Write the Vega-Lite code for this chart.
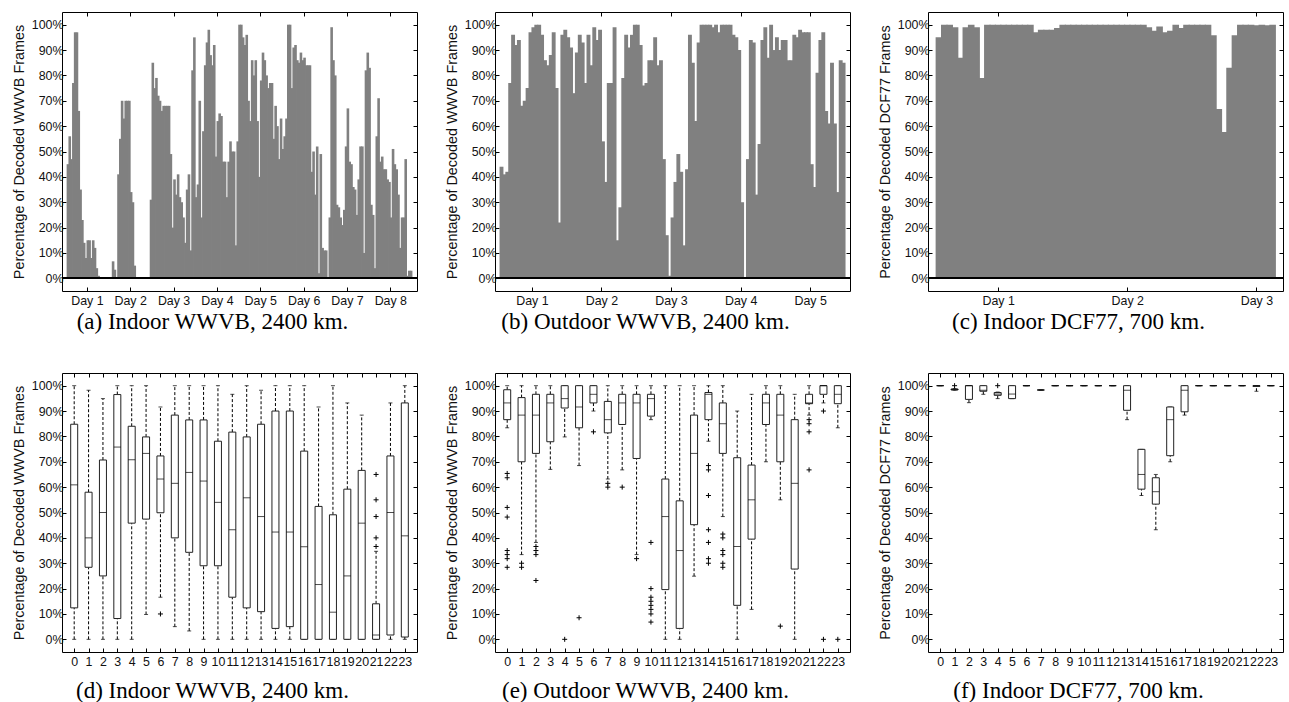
{
"$schema": "https://vega.github.io/schema/vega-lite/v6.json",
"padding": {"left": 10, "top": 11, "right": 4, "bottom": 4},
"background": "white",
"config": {
 "view": {"stroke": "black", "strokeWidth": 1},
 "axis": {"grid": false, "domain": false, "tickColor": "black", "tickSize": -4, "labelFont": "Liberation Sans", "labelFontSize": 12.4, "labelColor": "#111", "titleFont": "Liberation Sans", "titleFontWeight": "normal", "titleColor": "#111", "labelPadding": 3, "labelOverlap": false},
 "axisY": {"titleFontSize": 14.4, "titlePadding": 5, "tickCount": 11},
 "axisX": {"titleFont": "Liberation Serif", "titleFontSize": 23, "titleColor": "black", "titleX": 150, "labelPadding": 7}
},
"datasets": {
 "a": [{"h":13,"v":45},{"h":14,"v":56},{"h":15,"v":47},{"h":16,"v":77},{"h":17,"v":97},{"h":18,"v":97},{"h":19,"v":66},{"h":20,"v":35},{"h":21,"v":23},{"h":22,"v":14},{"h":23,"v":8},{"h":24,"v":15},{"h":25,"v":15},{"h":26,"v":8},{"h":27,"v":15},{"h":28,"v":12},{"h":29,"v":4},{"h":30,"v":1},{"h":31,"v":0.3},{"h":32,"v":0.3},{"h":33,"v":0.3},{"h":34,"v":0.3},{"h":35,"v":0.3},{"h":36,"v":0.3},{"h":37,"v":0.3},{"h":38,"v":6.7},{"h":39,"v":3.4},{"h":40,"v":0.3},{"h":41,"v":41},{"h":42,"v":55},{"h":43,"v":70},{"h":44,"v":63},{"h":45,"v":70},{"h":46,"v":70},{"h":47,"v":70},{"h":48,"v":34},{"h":49,"v":30},{"h":50,"v":5},{"h":51,"v":0.5},{"h":52,"v":0.3},{"h":53,"v":0.3},{"h":54,"v":0.3},{"h":55,"v":0.5},{"h":56,"v":0.3},{"h":57,"v":0.3},{"h":58,"v":0.5},{"h":59,"v":31},{"h":60,"v":85},{"h":61,"v":75},{"h":62,"v":79},{"h":63,"v":72},{"h":64,"v":70},{"h":65,"v":66},{"h":66,"v":68},{"h":67,"v":68},{"h":68,"v":68},{"h":69,"v":68},{"h":70,"v":49},{"h":71,"v":20},{"h":72,"v":39},{"h":73,"v":33},{"h":74,"v":41},{"h":75,"v":32},{"h":76,"v":30},{"h":77,"v":24},{"h":78,"v":14},{"h":79,"v":35},{"h":80,"v":41},{"h":81,"v":11},{"h":82,"v":82},{"h":83,"v":95},{"h":84,"v":32},{"h":85,"v":37},{"h":86,"v":70},{"h":87,"v":24},{"h":88,"v":58},{"h":89,"v":84},{"h":90,"v":93},{"h":91,"v":98},{"h":92,"v":88},{"h":93,"v":84},{"h":94,"v":92},{"h":95,"v":48},{"h":96,"v":62},{"h":97,"v":65},{"h":98,"v":64},{"h":99,"v":46},{"h":100,"v":46},{"h":101,"v":32},{"h":102,"v":46},{"h":103,"v":54},{"h":104,"v":50},{"h":105,"v":50},{"h":106,"v":13},{"h":107,"v":54},{"h":108,"v":100},{"h":109,"v":100},{"h":110,"v":95},{"h":111,"v":92},{"h":112,"v":96},{"h":113,"v":70},{"h":114,"v":62},{"h":115,"v":86},{"h":116,"v":80},{"h":117,"v":86},{"h":118,"v":62},{"h":119,"v":40},{"h":120,"v":78},{"h":121,"v":89},{"h":122,"v":86},{"h":123,"v":80},{"h":124,"v":75},{"h":125,"v":77},{"h":126,"v":77},{"h":127,"v":55},{"h":128,"v":68},{"h":129,"v":60},{"h":130,"v":47},{"h":131,"v":63},{"h":132,"v":51},{"h":133,"v":56},{"h":134,"v":63},{"h":135,"v":100},{"h":136,"v":100},{"h":137,"v":75},{"h":138,"v":91},{"h":139,"v":92},{"h":140,"v":86},{"h":141,"v":85},{"h":142,"v":89},{"h":143,"v":86},{"h":144,"v":87},{"h":145,"v":84},{"h":146,"v":84},{"h":147,"v":84},{"h":148,"v":42},{"h":149,"v":50},{"h":150,"v":33},{"h":151,"v":52},{"h":152,"v":2},{"h":153,"v":49},{"h":154,"v":12},{"h":155,"v":11},{"h":156,"v":11},{"h":157,"v":0},{"h":158,"v":24},{"h":159,"v":99},{"h":160,"v":86},{"h":161,"v":80},{"h":162,"v":29},{"h":163,"v":28},{"h":164,"v":24},{"h":165,"v":21},{"h":166,"v":27},{"h":167,"v":52},{"h":168,"v":67},{"h":169,"v":46},{"h":170,"v":45},{"h":171,"v":36},{"h":172,"v":35},{"h":173,"v":25},{"h":174,"v":39},{"h":175,"v":52},{"h":176,"v":52},{"h":177,"v":10},{"h":178,"v":82},{"h":179,"v":89},{"h":180,"v":83},{"h":181,"v":29},{"h":182,"v":25},{"h":183,"v":4},{"h":184,"v":56},{"h":185,"v":71},{"h":186,"v":46},{"h":187,"v":48},{"h":188,"v":43},{"h":189,"v":43},{"h":190,"v":39},{"h":191,"v":38},{"h":192,"v":24},{"h":193,"v":51},{"h":194,"v":45},{"h":195,"v":43},{"h":196,"v":33},{"h":197,"v":12},{"h":198,"v":24},{"h":199,"v":24},{"h":200,"v":47},{"h":201,"v":1},{"h":202,"v":3},{"h":203,"v":3}],
 "b": [{"h":13,"v":44},{"h":14,"v":41},{"h":15,"v":42},{"h":16,"v":77},{"h":17,"v":96},{"h":18,"v":92},{"h":19,"v":94},{"h":20,"v":68},{"h":21,"v":70},{"h":22,"v":75},{"h":23,"v":97},{"h":24,"v":99},{"h":25,"v":100},{"h":26,"v":100},{"h":27,"v":96},{"h":28,"v":86},{"h":29,"v":84},{"h":30,"v":88},{"h":31,"v":97},{"h":32,"v":75},{"h":33,"v":22},{"h":34,"v":96},{"h":35,"v":98},{"h":36,"v":95},{"h":37,"v":91},{"h":38,"v":73},{"h":39,"v":89},{"h":40,"v":96},{"h":41,"v":93},{"h":42,"v":77},{"h":43,"v":96},{"h":44,"v":84},{"h":45,"v":99},{"h":46,"v":94},{"h":47,"v":98},{"h":48,"v":54},{"h":49,"v":38},{"h":50,"v":77},{"h":51,"v":77},{"h":52,"v":99},{"h":53,"v":15},{"h":54,"v":28},{"h":55,"v":79},{"h":56,"v":96},{"h":57,"v":91},{"h":58,"v":96},{"h":59,"v":100},{"h":60,"v":100},{"h":61,"v":92},{"h":62,"v":76},{"h":63,"v":77},{"h":64,"v":86},{"h":65,"v":86},{"h":66,"v":95},{"h":67,"v":84},{"h":68,"v":86},{"h":69,"v":47},{"h":70,"v":17},{"h":71,"v":1},{"h":72,"v":24},{"h":73,"v":38},{"h":74,"v":49},{"h":75,"v":42},{"h":76,"v":13},{"h":77,"v":43},{"h":78,"v":96},{"h":79,"v":85},{"h":80,"v":62},{"h":81,"v":93},{"h":82,"v":100},{"h":83,"v":100},{"h":84,"v":100},{"h":85,"v":100},{"h":86,"v":99},{"h":87,"v":100},{"h":88,"v":97},{"h":89,"v":100},{"h":90,"v":100},{"h":91,"v":100},{"h":92,"v":100},{"h":93,"v":96},{"h":94,"v":95},{"h":95,"v":90},{"h":96,"v":30},{"h":97,"v":0.5},{"h":98,"v":47},{"h":99,"v":94},{"h":100,"v":93},{"h":101,"v":33},{"h":102,"v":53},{"h":103,"v":94},{"h":104,"v":99},{"h":105,"v":87},{"h":106,"v":100},{"h":107,"v":90},{"h":108,"v":95},{"h":109,"v":90},{"h":110,"v":94},{"h":111,"v":94},{"h":112,"v":86},{"h":113,"v":86},{"h":114,"v":96},{"h":115,"v":95},{"h":116,"v":98},{"h":117,"v":97},{"h":118,"v":97},{"h":119,"v":97},{"h":120,"v":45},{"h":121,"v":36},{"h":122,"v":81},{"h":123,"v":94},{"h":124,"v":97},{"h":125,"v":66},{"h":126,"v":61},{"h":127,"v":85},{"h":128,"v":61},{"h":129,"v":34},{"h":130,"v":86},{"h":131,"v":85}],
 "c": [{"h":13,"v":95},{"h":14,"v":100},{"h":15,"v":100},{"h":16,"v":99},{"h":17,"v":87},{"h":18,"v":99},{"h":19,"v":100},{"h":20,"v":99},{"h":21,"v":79},{"h":22,"v":100},{"h":23,"v":100},{"h":24,"v":100},{"h":25,"v":100},{"h":26,"v":100},{"h":27,"v":100},{"h":28,"v":100},{"h":29,"v":100},{"h":30,"v":100},{"h":31,"v":97},{"h":32,"v":98},{"h":33,"v":98},{"h":34,"v":98},{"h":35,"v":98.7},{"h":36,"v":100},{"h":37,"v":100},{"h":38,"v":100},{"h":39,"v":100},{"h":40,"v":100},{"h":41,"v":100},{"h":42,"v":100},{"h":43,"v":100},{"h":44,"v":100},{"h":45,"v":100},{"h":46,"v":100},{"h":47,"v":100},{"h":48,"v":100},{"h":49,"v":100},{"h":50,"v":100},{"h":51,"v":100},{"h":52,"v":99},{"h":53,"v":97.6},{"h":54,"v":99.3},{"h":55,"v":97},{"h":56,"v":97.6},{"h":57,"v":100},{"h":58,"v":98.7},{"h":59,"v":100},{"h":60,"v":100},{"h":61,"v":100},{"h":62,"v":100},{"h":63,"v":100},{"h":64,"v":95.8},{"h":65,"v":66.8},{"h":66,"v":57.7},{"h":67,"v":83},{"h":68,"v":95.8},{"h":69,"v":100},{"h":70,"v":100},{"h":71,"v":100},{"h":72,"v":99.8},{"h":73,"v":100},{"h":74,"v":99.8},{"h":75,"v":100}],
 "d": [{"h":0,"lo":0,"q1":12.4,"med":60.9,"q3":84.8,"hi":100},{"h":1,"lo":0,"q1":28.4,"med":40,"q3":58,"hi":98.2},{"h":2,"lo":0,"q1":25,"med":50,"q3":70.7,"hi":94.9},{"h":3,"lo":0,"q1":8.2,"med":75.8,"q3":96.5,"hi":100},{"h":4,"lo":0,"q1":45.8,"med":70.8,"q3":84,"hi":100},{"h":5,"lo":9.8,"q1":47.4,"med":73.3,"q3":79.8,"hi":100},{"h":6,"lo":16.6,"q1":49.9,"med":63.2,"q3":72.3,"hi":91.6},{"h":7,"lo":5,"q1":40,"med":61.5,"q3":88.4,"hi":100},{"h":8,"lo":3.3,"q1":34.3,"med":65.8,"q3":86.5,"hi":100},{"h":9,"lo":0,"q1":29,"med":62.4,"q3":86.5,"hi":100},{"h":10,"lo":0,"q1":29,"med":54,"q3":78.1,"hi":100},{"h":11,"lo":0,"q1":16.6,"med":43.2,"q3":81.7,"hi":96.6},{"h":12,"lo":0,"q1":12.4,"med":55.8,"q3":79.8,"hi":100},{"h":13,"lo":0,"q1":10.9,"med":48.4,"q3":84.8,"hi":98.2},{"h":14,"lo":0,"q1":4.3,"med":42.3,"q3":90,"hi":100},{"h":15,"lo":0,"q1":5,"med":42.3,"q3":90,"hi":100},{"h":16,"lo":0,"q1":0,"med":36.5,"q3":74.2,"hi":100},{"h":17,"lo":0,"q1":0,"med":21.6,"q3":52.4,"hi":91.6},{"h":18,"lo":0,"q1":0,"med":10.7,"q3":49.1,"hi":100},{"h":19,"lo":0,"q1":0,"med":25,"q3":59.2,"hi":93.2},{"h":20,"lo":0,"q1":0,"med":45.8,"q3":66.6,"hi":88.4},{"h":21,"lo":0,"q1":0,"med":1.7,"q3":14,"hi":34.7},{"h":22,"lo":0,"q1":1.7,"med":50,"q3":72.3,"hi":93.2},{"h":23,"lo":0,"q1":0.9,"med":40.8,"q3":93.2,"hi":100}],
 "do": [{"h":6,"v":10},{"h":21,"v":65},{"h":21,"v":55},{"h":21,"v":48.4},{"h":21,"v":40},{"h":21,"v":36.6}],
 "e": [{"h":0,"lo":83.4,"q1":86.6,"med":93.2,"q3":98.4,"hi":100},{"h":1,"lo":33.4,"q1":70,"med":88.4,"q3":95.3,"hi":100},{"h":2,"lo":38.2,"q1":73.3,"med":88.4,"q3":96.6,"hi":100},{"h":3,"lo":67,"q1":77.9,"med":93.2,"q3":96.6,"hi":100},{"h":4,"lo":79.8,"q1":91.2,"med":94.9,"q3":100,"hi":100},{"h":5,"lo":68.5,"q1":83.4,"med":91.6,"q3":100,"hi":100},{"h":6,"lo":90,"q1":93.2,"med":96.6,"q3":100,"hi":100},{"h":7,"lo":63.2,"q1":81.4,"med":86.6,"q3":93.8,"hi":100},{"h":8,"lo":66.8,"q1":84.7,"med":93.2,"q3":96.6,"hi":100},{"h":9,"lo":33.4,"q1":71.3,"med":93.2,"q3":96.6,"hi":100},{"h":10,"lo":86.6,"q1":88,"med":94.9,"q3":96.6,"hi":100},{"h":11,"lo":0,"q1":19.6,"med":48.4,"q3":63.2,"hi":100},{"h":12,"lo":0,"q1":4.3,"med":35,"q3":54.6,"hi":100},{"h":13,"lo":24.9,"q1":45.2,"med":73.3,"q3":88.4,"hi":100},{"h":14,"lo":78.1,"q1":86.6,"med":96.6,"q3":97.3,"hi":100},{"h":15,"lo":48.4,"q1":73.3,"med":85,"q3":93.2,"hi":100},{"h":16,"lo":0,"q1":13.4,"med":36.6,"q3":71.6,"hi":90},{"h":17,"lo":11.8,"q1":39.5,"med":55,"q3":68.7,"hi":96.6},{"h":18,"lo":70,"q1":84.7,"med":93.2,"q3":96.6,"hi":100},{"h":19,"lo":55,"q1":70,"med":88.4,"q3":96.6,"hi":100},{"h":20,"lo":0,"q1":27.7,"med":61.5,"q3":86.6,"hi":96.6},{"h":21,"lo":88.4,"q1":92.9,"med":93.2,"q3":96.6,"hi":100},{"h":22,"lo":93.2,"q1":96.6,"med":100,"q3":100,"hi":100},{"h":23,"lo":83.4,"q1":92.9,"med":96.6,"q3":100,"hi":100}],
 "eo": [{"h":0,"v":65.4},{"h":0,"v":63.7},{"h":0,"v":52},{"h":0,"v":48.2},{"h":0,"v":35},{"h":0,"v":33.4},{"h":0,"v":31.8},{"h":0,"v":28.4},{"h":1,"v":30},{"h":1,"v":28.4},{"h":2,"v":36.6},{"h":2,"v":35},{"h":2,"v":33.4},{"h":2,"v":23.2},{"h":4,"v":0},{"h":5,"v":8.5},{"h":6,"v":81.8},{"h":7,"v":61.5},{"h":7,"v":60},{"h":8,"v":60},{"h":9,"v":31.8},{"h":10,"v":38.2},{"h":10,"v":20},{"h":10,"v":16.6},{"h":10,"v":15},{"h":10,"v":13.4},{"h":10,"v":11.8},{"h":10,"v":10},{"h":10,"v":6.8},{"h":14,"v":68.5},{"h":14,"v":66.8},{"h":14,"v":56.7},{"h":14,"v":43.2},{"h":14,"v":38.2},{"h":14,"v":31.8},{"h":14,"v":30},{"h":15,"v":41.5},{"h":15,"v":40},{"h":15,"v":35},{"h":15,"v":33.4},{"h":15,"v":30},{"h":15,"v":28.4},{"h":19,"v":5.2},{"h":21,"v":86.6},{"h":21,"v":85},{"h":21,"v":81.8},{"h":21,"v":66.8},{"h":22,"v":90},{"h":22,"v":0},{"h":23,"v":0}],
 "f": [{"h":0,"lo":100,"q1":100,"med":100,"q3":100,"hi":100},{"h":1,"lo":98.2,"q1":98.3,"med":98.5,"q3":98.7,"hi":98.9},{"h":2,"lo":93.3,"q1":94.6,"med":100,"q3":100,"hi":100},{"h":3,"lo":96.6,"q1":97.8,"med":98.2,"q3":100,"hi":100},{"h":4,"lo":94.9,"q1":96.2,"med":96.7,"q3":97.3,"hi":97.5},{"h":5,"lo":94.9,"q1":94.9,"med":96.7,"q3":100,"hi":100},{"h":6,"lo":100,"q1":100,"med":100,"q3":100,"hi":100},{"h":7,"lo":98.3,"q1":98.3,"med":98.3,"q3":98.3,"hi":98.3},{"h":8,"lo":100,"q1":100,"med":100,"q3":100,"hi":100},{"h":9,"lo":100,"q1":100,"med":100,"q3":100,"hi":100},{"h":10,"lo":100,"q1":100,"med":100,"q3":100,"hi":100},{"h":11,"lo":100,"q1":100,"med":100,"q3":100,"hi":100},{"h":12,"lo":100,"q1":100,"med":100,"q3":100,"hi":100},{"h":13,"lo":86.6,"q1":90.3,"med":98.2,"q3":100,"hi":100},{"h":14,"lo":56.7,"q1":59.2,"med":65,"q3":74.9,"hi":74.9},{"h":15,"lo":43.2,"q1":53.3,"med":58.2,"q3":63.7,"hi":65},{"h":16,"lo":70,"q1":72.4,"med":86.6,"q3":91.6,"hi":91.6},{"h":17,"lo":88.4,"q1":89.7,"med":98.2,"q3":100,"hi":100},{"h":18,"lo":100,"q1":100,"med":100,"q3":100,"hi":100},{"h":19,"lo":100,"q1":100,"med":100,"q3":100,"hi":100},{"h":20,"lo":100,"q1":100,"med":100,"q3":100,"hi":100},{"h":21,"lo":100,"q1":100,"med":100,"q3":100,"hi":100},{"h":22,"lo":97.8,"q1":99.7,"med":100,"q3":100,"hi":100},{"h":23,"lo":100,"q1":100,"med":100,"q3":100,"hi":100}],
 "fo": [{"h":1,"v":100},{"h":4,"v":100}]
},
"spacing": 38,
"vconcat": [
 {"spacing": 78, "bounds": "flush", "hconcat": [
  {"width": 355, "height": 279, "data": {"name": "a"},
   "resolve": {"axis": {"x": "independent", "y": "independent"}},
   "layer": [
    {"layer": [
     {"mark": {"type": "bar", "color": "#808080", "width": 2.6, "xOffset": 0.93, "clip": true},
      "encoding": {
       "x": {"field": "h", "type": "quantitative", "scale": {"domain": [13, 204], "nice": false, "zero": false}, "axis": {"values": [24,48,72,96,120,144,168,192], "labelExpr": "'Day ' + (datum.value/24)", "title": "(a) Indoor WWVB, 2400 km.", "titlePadding": 4}},
       "y": {"field": "v", "type": "quantitative", "scale": {"domain": [-5, 105], "nice": false, "zero": false}, "axis": {"values": [0,10,20,30,40,50,60,70,80,90,100], "labelExpr": "datum.value + '%'", "title": "Percentage of Decoded WWVB Frames"}}
      }},
     {"mark": {"type": "rule", "color": "black", "strokeWidth": 1.2}, "encoding": {"y": {"datum": 0, "type": "quantitative"}}}
    ]},
    {"mark": {"type": "point", "opacity": 0}, "encoding": {"x": {"datum": 100, "type": "quantitative", "axis": {"orient": "top", "values": [24,48,72,96,120,144,168,192], "labels": false, "title": null}}, "y": {"datum": 50, "type": "quantitative", "axis": {"orient": "right", "labels": false, "title": null}}}}
   ]},
  {"width": 355, "height": 279, "data": {"name": "b"},
   "resolve": {"axis": {"x": "independent", "y": "independent"}},
   "layer": [
    {"layer": [
     {"mark": {"type": "bar", "color": "#808080", "width": 3.9, "xOffset": 1.49, "clip": true},
      "encoding": {
       "x": {"field": "h", "type": "quantitative", "scale": {"domain": [13, 132], "nice": false, "zero": false}, "axis": {"values": [24,48,72,96,120], "labelExpr": "'Day ' + (datum.value/24)", "title": "(b) Outdoor WWVB, 2400 km.", "titlePadding": 4}},
       "y": {"field": "v", "type": "quantitative", "scale": {"domain": [-5, 105], "nice": false, "zero": false}, "axis": {"values": [0,10,20,30,40,50,60,70,80,90,100], "labelExpr": "datum.value + '%'", "title": "Percentage of Decoded WWVB Frames"}}
      }},
     {"mark": {"type": "rule", "color": "black", "strokeWidth": 1.2}, "encoding": {"y": {"datum": 0, "type": "quantitative"}}}
    ]},
    {"mark": {"type": "point", "opacity": 0}, "encoding": {"x": {"datum": 100, "type": "quantitative", "axis": {"orient": "top", "values": [24,48,72,96,120], "labels": false, "title": null}}, "y": {"datum": 50, "type": "quantitative", "axis": {"orient": "right", "labels": false, "title": null}}}}
   ]},
  {"width": 355, "height": 279, "data": {"name": "c"},
   "resolve": {"axis": {"x": "independent", "y": "independent"}},
   "layer": [
    {"layer": [
     {"mark": {"type": "bar", "color": "#808080", "width": 6.6, "clip": true},
      "encoding": {
       "x": {"field": "h", "type": "quantitative", "scale": {"domain": [11.9, 76], "nice": false, "zero": false}, "axis": {"values": [24,48,72], "labelExpr": "'Day ' + (datum.value/24)", "title": "(c) Indoor DCF77, 700 km.", "titlePadding": 4}},
       "y": {"field": "v", "type": "quantitative", "scale": {"domain": [-5, 105], "nice": false, "zero": false}, "axis": {"values": [0,10,20,30,40,50,60,70,80,90,100], "labelExpr": "datum.value + '%'", "title": "Percentage of Decoded DCF77 Frames"}}
      }},
     {"mark": {"type": "rule", "color": "black", "strokeWidth": 1.2}, "encoding": {"y": {"datum": 0, "type": "quantitative"}}}
    ]},
    {"mark": {"type": "point", "opacity": 0}, "encoding": {"x": {"datum": 40, "type": "quantitative", "axis": {"orient": "top", "values": [24,48,72], "labels": false, "title": null}}, "y": {"datum": 50, "type": "quantitative", "axis": {"orient": "right", "labels": false, "title": null}}}}
   ]}
 ]},
 {"spacing": 78, "bounds": "flush", "hconcat": [
  {"width": 355, "height": 279,
   "resolve": {"axis": {"x": "independent", "y": "independent"}},
   "layer": [
    {"encoding": {"x": {"field": "h", "type": "quantitative", "scale": {"domain": [-0.5, 23.5], "nice": false, "zero": false}, "axis": {"values": [0,1,2,3,4,5,6,7,8,9,10,11,12,13,14,15,16,17,18,19,20,21,22,23], "title": "(d) Indoor WWVB, 2400 km.", "titlePadding": 12}}},
     "layer": [
     {"data": {"name": "d"}, "mark": {"type": "rule", "color": "black", "strokeDash": [3, 2]}, "encoding": {"y": {"field": "lo", "type": "quantitative", "scale": {"domain": [-5, 105], "nice": false, "zero": false}, "axis": {"values": [0,10,20,30,40,50,60,70,80,90,100], "labelExpr": "datum.value + '%'", "title": "Percentage of Decoded WWVB Frames"}}, "y2": {"field": "q1"}}},
     {"data": {"name": "d"}, "mark": {"type": "rule", "color": "black", "strokeDash": [3, 2]}, "encoding": {"y": {"field": "q3", "type": "quantitative"}, "y2": {"field": "hi"}}},
     {"data": {"name": "d"}, "mark": {"type": "tick", "orient": "horizontal", "size": 4, "thickness": 1, "color": "black"}, "encoding": {"y": {"field": "hi", "type": "quantitative"}}},
     {"data": {"name": "d"}, "mark": {"type": "tick", "orient": "horizontal", "size": 4, "thickness": 1, "color": "black"}, "encoding": {"y": {"field": "lo", "type": "quantitative"}}},
     {"data": {"name": "d"}, "mark": {"type": "bar", "width": 7, "fill": "white", "stroke": "#222", "strokeWidth": 1}, "encoding": {"y": {"field": "q1", "type": "quantitative"}, "y2": {"field": "q3"}}},
     {"data": {"name": "d"}, "mark": {"type": "tick", "orient": "horizontal", "size": 7, "thickness": 1, "color": "black"}, "encoding": {"y": {"field": "med", "type": "quantitative"}}},
     {"data": {"name": "do"}, "mark": {"type": "point", "shape": "M-1,0L1,0M0,-1L0,1", "size": 25, "filled": false, "stroke": "black", "strokeWidth": 1, "opacity": 1}, "encoding": {"y": {"field": "v", "type": "quantitative"}}}
    ]},
    {"data": {"name": "d"}, "mark": {"type": "point", "opacity": 0}, "encoding": {"x": {"datum": 10, "type": "quantitative", "axis": {"orient": "top", "values": [0,1,2,3,4,5,6,7,8,9,10,11,12,13,14,15,16,17,18,19,20,21,22,23], "labels": false, "title": null}}, "y": {"datum": 50, "type": "quantitative", "axis": {"orient": "right", "labels": false, "title": null}}}}
   ]},
  {"width": 355, "height": 279,
   "resolve": {"axis": {"x": "independent", "y": "independent"}},
   "layer": [
    {"encoding": {"x": {"field": "h", "type": "quantitative", "scale": {"domain": [-0.5, 23.5], "nice": false, "zero": false}, "axis": {"values": [0,1,2,3,4,5,6,7,8,9,10,11,12,13,14,15,16,17,18,19,20,21,22,23], "title": "(e) Outdoor WWVB, 2400 km.", "titlePadding": 12}}},
     "layer": [
     {"data": {"name": "e"}, "mark": {"type": "rule", "color": "black", "strokeDash": [3, 2]}, "encoding": {"y": {"field": "lo", "type": "quantitative", "scale": {"domain": [-5, 105], "nice": false, "zero": false}, "axis": {"values": [0,10,20,30,40,50,60,70,80,90,100], "labelExpr": "datum.value + '%'", "title": "Percentage of Decoded WWVB Frames"}}, "y2": {"field": "q1"}}},
     {"data": {"name": "e"}, "mark": {"type": "rule", "color": "black", "strokeDash": [3, 2]}, "encoding": {"y": {"field": "q3", "type": "quantitative"}, "y2": {"field": "hi"}}},
     {"data": {"name": "e"}, "mark": {"type": "tick", "orient": "horizontal", "size": 4, "thickness": 1, "color": "black"}, "encoding": {"y": {"field": "hi", "type": "quantitative"}}},
     {"data": {"name": "e"}, "mark": {"type": "tick", "orient": "horizontal", "size": 4, "thickness": 1, "color": "black"}, "encoding": {"y": {"field": "lo", "type": "quantitative"}}},
     {"data": {"name": "e"}, "mark": {"type": "bar", "width": 7, "fill": "white", "stroke": "#222", "strokeWidth": 1}, "encoding": {"y": {"field": "q1", "type": "quantitative"}, "y2": {"field": "q3"}}},
     {"data": {"name": "e"}, "mark": {"type": "tick", "orient": "horizontal", "size": 7, "thickness": 1, "color": "black"}, "encoding": {"y": {"field": "med", "type": "quantitative"}}},
     {"data": {"name": "eo"}, "mark": {"type": "point", "shape": "M-1,0L1,0M0,-1L0,1", "size": 25, "filled": false, "stroke": "black", "strokeWidth": 1, "opacity": 1}, "encoding": {"y": {"field": "v", "type": "quantitative"}}}
    ]},
    {"data": {"name": "e"}, "mark": {"type": "point", "opacity": 0}, "encoding": {"x": {"datum": 10, "type": "quantitative", "axis": {"orient": "top", "values": [0,1,2,3,4,5,6,7,8,9,10,11,12,13,14,15,16,17,18,19,20,21,22,23], "labels": false, "title": null}}, "y": {"datum": 50, "type": "quantitative", "axis": {"orient": "right", "labels": false, "title": null}}}}
   ]},
  {"width": 355, "height": 279,
   "resolve": {"axis": {"x": "independent", "y": "independent"}},
   "layer": [
    {"encoding": {"x": {"field": "h", "type": "quantitative", "scale": {"domain": [-0.5, 23.5], "nice": false, "zero": false}, "axis": {"values": [0,1,2,3,4,5,6,7,8,9,10,11,12,13,14,15,16,17,18,19,20,21,22,23], "title": "(f) Indoor DCF77, 700 km.", "titlePadding": 12}}},
     "layer": [
     {"data": {"name": "f"}, "mark": {"type": "rule", "color": "black", "strokeDash": [3, 2]}, "encoding": {"y": {"field": "lo", "type": "quantitative", "scale": {"domain": [-5, 105], "nice": false, "zero": false}, "axis": {"values": [0,10,20,30,40,50,60,70,80,90,100], "labelExpr": "datum.value + '%'", "title": "Percentage of Decoded DCF77 Frames"}}, "y2": {"field": "q1"}}},
     {"data": {"name": "f"}, "mark": {"type": "rule", "color": "black", "strokeDash": [3, 2]}, "encoding": {"y": {"field": "q3", "type": "quantitative"}, "y2": {"field": "hi"}}},
     {"data": {"name": "f"}, "mark": {"type": "tick", "orient": "horizontal", "size": 4, "thickness": 1, "color": "black"}, "encoding": {"y": {"field": "hi", "type": "quantitative"}}},
     {"data": {"name": "f"}, "mark": {"type": "tick", "orient": "horizontal", "size": 4, "thickness": 1, "color": "black"}, "encoding": {"y": {"field": "lo", "type": "quantitative"}}},
     {"data": {"name": "f"}, "mark": {"type": "bar", "width": 7, "fill": "white", "stroke": "#222", "strokeWidth": 1}, "encoding": {"y": {"field": "q1", "type": "quantitative"}, "y2": {"field": "q3"}}},
     {"data": {"name": "f"}, "mark": {"type": "tick", "orient": "horizontal", "size": 7, "thickness": 1, "color": "black"}, "encoding": {"y": {"field": "med", "type": "quantitative"}}},
     {"data": {"name": "fo"}, "mark": {"type": "point", "shape": "M-1,0L1,0M0,-1L0,1", "size": 25, "filled": false, "stroke": "black", "strokeWidth": 1, "opacity": 1}, "encoding": {"y": {"field": "v", "type": "quantitative"}}}
    ]},
    {"data": {"name": "f"}, "mark": {"type": "point", "opacity": 0}, "encoding": {"x": {"datum": 10, "type": "quantitative", "axis": {"orient": "top", "values": [0,1,2,3,4,5,6,7,8,9,10,11,12,13,14,15,16,17,18,19,20,21,22,23], "labels": false, "title": null}}, "y": {"datum": 50, "type": "quantitative", "axis": {"orient": "right", "labels": false, "title": null}}}}
   ]}
 ]}
]
}
